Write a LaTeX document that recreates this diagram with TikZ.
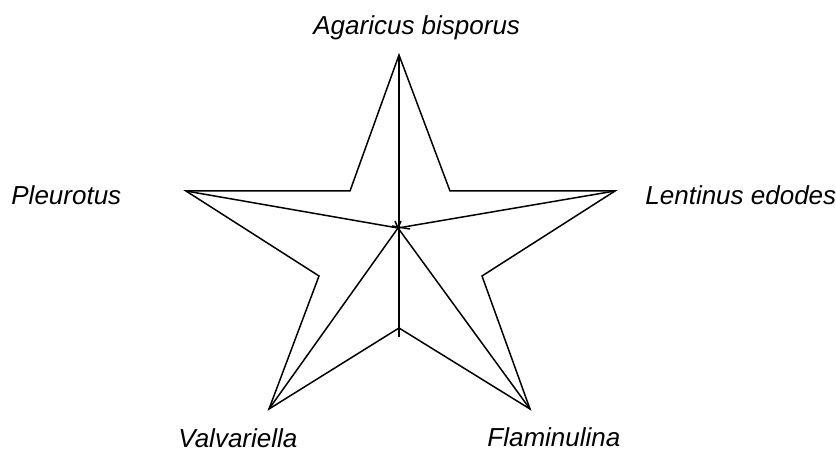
\documentclass[tikz,border=0pt]{standalone}
\usepackage{fontspec}
\setmainfont{Liberation Sans}
\usepackage{tikz}
\usetikzlibrary{positioning,calc}
\tikzset{
  outline/.style={black,line width=0.75pt,line join=miter},
  spoke/.style={black,line width=0.75pt},
  species/.style={inner sep=0pt,anchor=base west,font=\fontsize{13}{15}\selectfont\itshape},
}

\begin{document}
\begin{tikzpicture}[x=0.5pt,y=-0.5pt]
\useasboundingbox (0,0) rectangle (836,453);
% star tips and inner corners
\coordinate (top) at (399,55);
\coordinate (lt) at (186,191);
\coordinate (rt) at (615,191);
\coordinate (bl) at (269,409);
\coordinate (br) at (530,409);
\coordinate (il) at (350,191);
\coordinate (ir) at (450,191);
\coordinate (ibl) at (319,276);
\coordinate (ibr) at (482,276);
\coordinate (ib) at (399,328);
\coordinate (ctr) at (398,228);
\coordinate (axend) at (399,337);

\draw[outline] (top) -- (ir) -- (rt) -- (ibr) -- (br) -- (ib) -- (bl) -- (ibl) -- (lt) -- (il) -- cycle;

% spokes to the centre
\draw[spoke] (top) -- (axend);
\draw[spoke] (lt) -- (ctr);
\draw[spoke] (rt) -- (ctr);
\draw[spoke] (bl) -- (ctr);
\draw[spoke] (br) -- (ctr);
\draw[spoke] ($(ctr)+(-6,-2)$) -- ($(ctr)+(12,1)$);
\draw[spoke] ($(ctr)+(-3,-7)$) -- (ctr) -- ($(ctr)+(3,-7)$);

% labels
\node[species] (agar) at (313,35) {Agaricus bisporus};
\node[species] (pleu) at (11,205) {Pleurotus};
\node[species] (lent) at (645,205) {Lentinus edodes};
\node[species] (valv) at (178,448) {Valvariella};
\node[species] (flam) at (487,447) {Flaminulina};
\end{tikzpicture}
\end{document}
